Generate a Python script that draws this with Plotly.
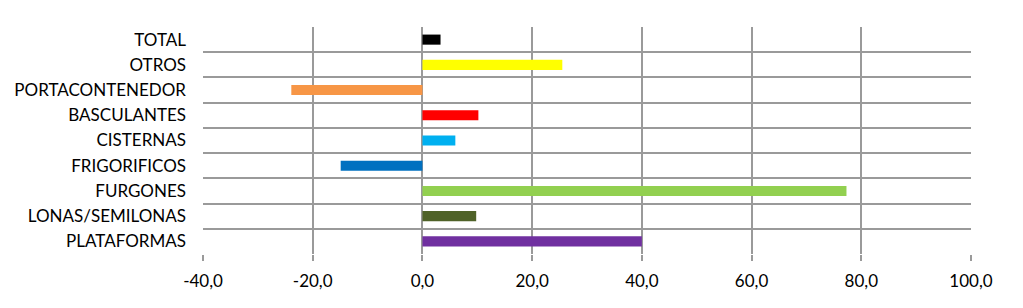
import plotly.graph_objects as go

categories = ["TOTAL", "OTROS", "PORTACONTENEDOR", "BASCULANTES", "CISTERNAS",
              "FRIGORIFICOS", "FURGONES", "LONAS/SEMILONAS", "PLATAFORMAS"]
values = [3.3, 25.5, -23.9, 10.2, 6.0, -14.9, 77.3, 9.8, 40.0]
colors = ["#000000", "#FFFF00", "#F79646", "#FF0000", "#00B0F0",
          "#0070C0", "#92D050", "#4F6228", "#7030A0"]
x_tickvals = [-40, -20, 0, 20, 40, 60, 80, 100]
x_ticktext = ["-40,0", "-20,0", "0,0", "20,0", "40,0", "60,0", "80,0", "100,0"]

fig = go.Figure(go.Bar(
    x=values, y=categories, orientation="h",
    marker=dict(color=colors, line=dict(width=0)),
    hoverinfo="x+y",
))

fig.update_layout(
    width=1023, height=308,
    margin=dict(l=203, r=52, t=27, b=54),
    paper_bgcolor="white", plot_bgcolor="white",
    bargap=0.6,
    showlegend=False,
    font=dict(family="Lato, Open Sans, sans-serif", size=17, color="#000000"),
    xaxis=dict(
        range=[-40, 100], tickvals=x_tickvals, ticktext=x_ticktext,
        showgrid=True, gridcolor="#9a9a9a", gridwidth=2,
        zeroline=False, ticks="outside", ticklen=6, tickcolor="#9a9a9a", tickwidth=2,
        showline=False, tickfont=dict(size=17), ticklabelstandoff=6,
    ),
    yaxis=dict(
        autorange="reversed", type="category", tickson="boundaries",
        showgrid=True, gridcolor="#9a9a9a", gridwidth=2,
        ticks="", showline=False, ticklabelstandoff=16,
        tickfont=dict(size=17),
    ),
)

fig.write_html("out.html")
